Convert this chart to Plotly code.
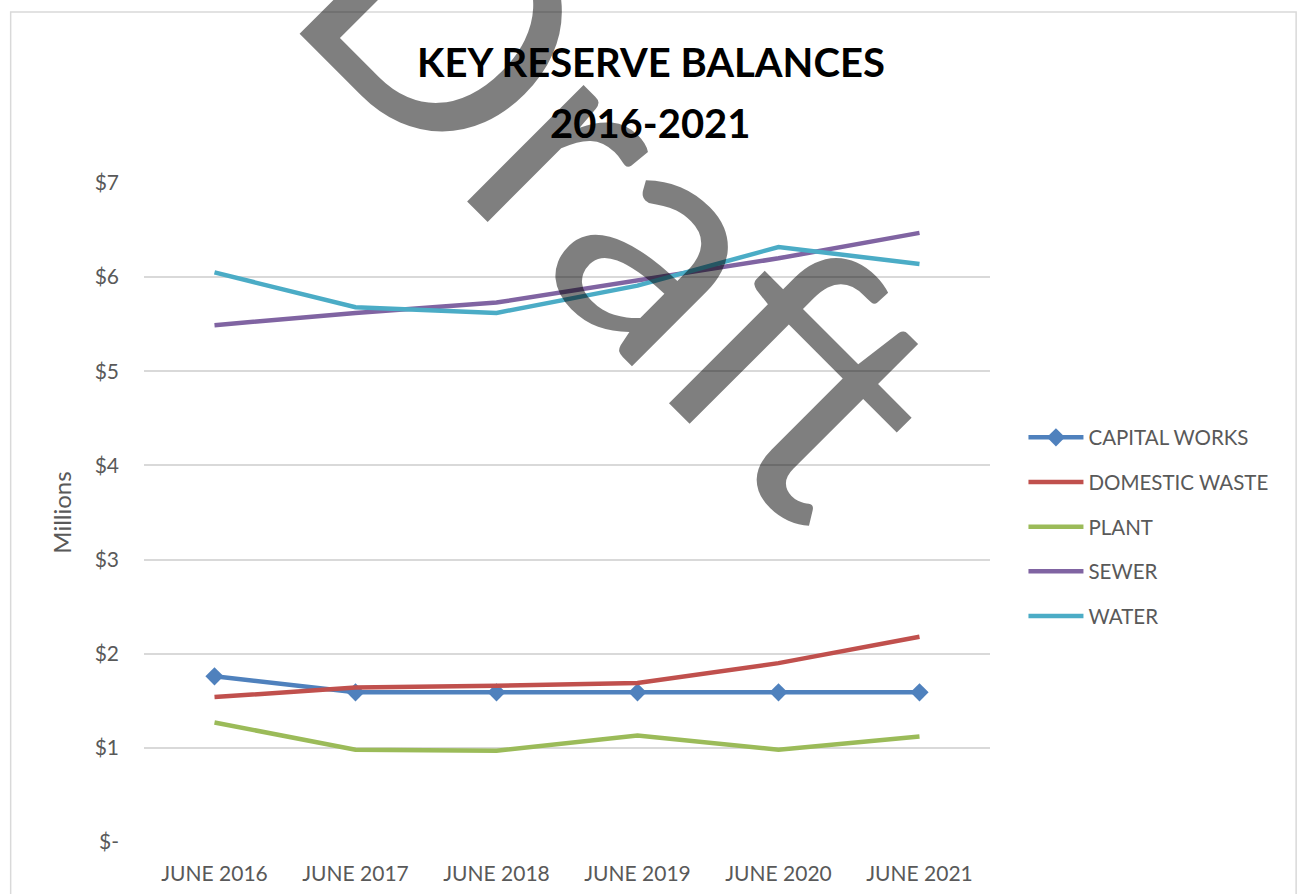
import plotly.graph_objects as go

# Reserve balances at 30 June, in $ millions
periods = ["JUNE 2016", "JUNE 2017", "JUNE 2018", "JUNE 2019", "JUNE 2020", "JUNE 2021"]
capital_works = [1.76, 1.59, 1.59, 1.59, 1.59, 1.59]
domestic_waste = [1.54, 1.64, 1.66, 1.69, 1.90, 2.18]
plant = [1.27, 0.98, 0.97, 1.13, 0.98, 1.12]
sewer = [5.49, 5.62, 5.73, 5.97, 6.20, 6.47]
water = [6.05, 5.68, 5.62, 5.91, 6.32, 6.14]

y_tick_values = [0, 1, 2, 3, 4, 5, 6, 7]
y_tick_labels = ["$-", "$1", "$2", "$3", "$4", "$5", "$6", "$7"]

FONT = "Lato"
GREY_TEXT = "#595959"
W, H = 1300, 894
L, R, T, B = 143.5, 309.5, 183, 52
PW, PH = W - L - R, H - T - B


def px_to_paper(px, py):
    return (px - L) / PW, (H - B - py) / PH


series = [
    ("CAPITAL WORKS", capital_works, "#4F81BD", True),
    ("DOMESTIC WASTE", domestic_waste, "#C0504D", False),
    ("PLANT", plant, "#9BBB59", False),
    ("SEWER", sewer, "#8064A2", False),
    ("WATER", water, "#4BACC6", False),
]

fig = go.Figure()
for name, vals, color, markers in series:
    fig.add_trace(go.Scatter(
        x=periods, y=vals, name=name, legendgroup=name,
        mode="lines+markers" if markers else "lines",
        line=dict(color=color, width=4.5),
        marker=dict(symbol="diamond", size=14, color=color),
    ))

annotations = []
# Two-line chart heading
for text, py in [("KEY RESERVE BALANCES", 62), ("2016-2021", 123)]:
    x, y = px_to_paper(651, py)
    annotations.append(dict(
        text=f"<b>{text}</b>", x=x, y=y, xref="paper", yref="paper",
        xanchor="center", yanchor="middle", showarrow=False,
        font=dict(family=FONT, size=40, color="#000000"),
    ))

# Diagonal watermark over the plot
wx, wy = px_to_paper(630, 186)
annotations.append(dict(
    text="Draft", x=wx, y=wy, xref="paper", yref="paper",
    xanchor="center", yanchor="middle", showarrow=False, textangle=45,
    font=dict(family=FONT, size=325, color="rgba(0,0,0,0.5)"),
))

# Outer chart border
bx0, by0 = px_to_paper(10, 12)
bx1, by1 = px_to_paper(1297, 905)

lx, ly = px_to_paper(1024, 527)

fig.update_layout(
    width=W, height=H,
    margin=dict(l=L, r=R, t=T, b=B, autoexpand=False),
    paper_bgcolor="white", plot_bgcolor="white",
    font=dict(family=FONT, color=GREY_TEXT, size=21),
    showlegend=True,
    legend=dict(
        x=lx, y=ly, xanchor="left", yanchor="middle",
        traceorder="grouped", tracegroupgap=15, itemwidth=55,
        font=dict(family=FONT, size=20.5, color=GREY_TEXT),
        bgcolor="rgba(0,0,0,0)",
    ),
    xaxis=dict(
        type="category", range=[-0.5, 5.5],
        showgrid=False, zeroline=False, showline=False,
        ticks="", ticklabelstandoff=17,
        tickfont=dict(family=FONT, size=21, color=GREY_TEXT),
    ),
    yaxis=dict(
        range=[0, 7], tickvals=y_tick_values, ticktext=y_tick_labels,
        showgrid=True, gridcolor="#D9D9D9", gridwidth=1.5,
        zeroline=False, showline=False, ticks="", ticklabelstandoff=24,
        tickfont=dict(family=FONT, size=21, color=GREY_TEXT),
        title=dict(text="Millions", standoff=16,
                   font=dict(family=FONT, size=24, color=GREY_TEXT)),
    ),
    annotations=annotations,
    shapes=[dict(type="rect", xref="paper", yref="paper",
                 x0=bx0, y0=by0, x1=bx1, y1=by1,
                 line=dict(color="#D9D9D9", width=1.5), layer="below")],
)

fig.write_html("out.html")
